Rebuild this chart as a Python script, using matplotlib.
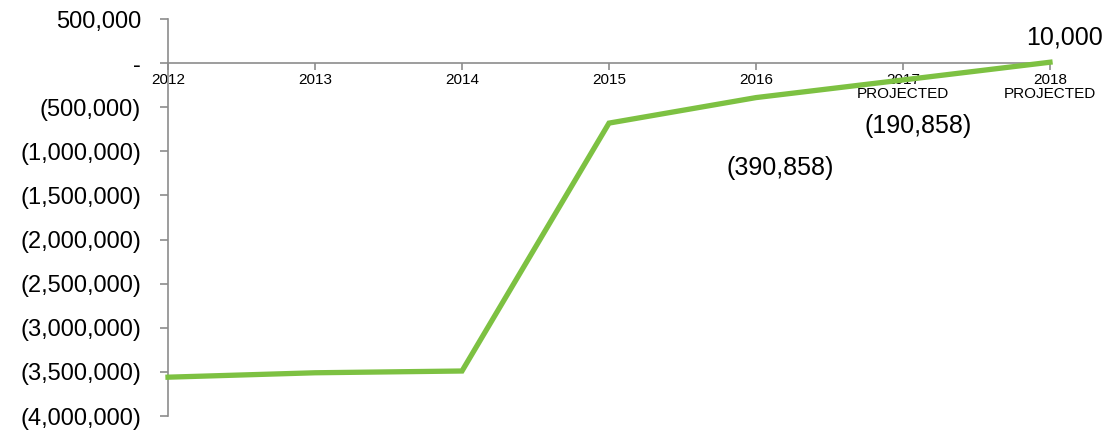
import matplotlib.pyplot as plt
from matplotlib.ticker import FuncFormatter

plt.rcParams['font.family'] = ['Liberation Sans', 'DejaVu Sans']

years = ["2012", "2013", "2014", "2015", "2016", "2017\nPROJECTED", "2018\nPROJECTED"]
net_income = [-3560000, -3510000, -3490000, -680000, -390858, -190858, 10000]
labelled = {4: (-390858, (780, 168)), 5: (-190858, (918, 126)), 6: (10000, (1065, 38))}

W, H = 1107, 434
fig = plt.figure(figsize=(W / 100, H / 100), dpi=100)
ax = fig.add_axes([168 / W, 1 - 416 / H, (1050 - 168) / W, (416 - 19) / H])

grey = '#8c8c8c'
green = '#7dc142'
x = list(range(len(years)))
ax.plot(x, net_income, color=green, lw=3.8, solid_joinstyle='miter', zorder=3,
        clip_on=False)

ax.set_xlim(0, 6)
ax.set_ylim(-4000000, 500000)
ax.set_yticks(range(-4000000, 500001, 500000))


def fmt(v, pos):
    if abs(v) < 1:
        return '-'
    if v < 0:
        return f'({abs(v):,.0f})'
    return f'{v:,.0f}'


ax.yaxis.set_major_formatter(FuncFormatter(fmt))
ax.set_xticks(x)

for s in ['top', 'right']:
    ax.spines[s].set_visible(False)
ax.spines['bottom'].set_position(('data', 0))
for s in ['left', 'bottom']:
    ax.spines[s].set_color(grey)
    ax.spines[s].set_linewidth(1.2)

ax.tick_params(axis='y', colors=grey, length=6, width=1.2, labelsize=17,
               labelcolor='black', pad=13.5)
ax.tick_params(axis='x', colors=grey, length=5, width=1.2, direction='out',
               labelcolor='black', labelsize=11, pad=2)
ax.set_xticklabels(years, fontsize=11, linespacing=1.0)

# Value labels placed in pixel coordinates
for i, (val, (px, py)) in labelled.items():
    fig.text(px / W, 1 - py / H, fmt(val, None), fontsize=18,
             ha='center', va='center')

fig.savefig('out.png', dpi=100)
